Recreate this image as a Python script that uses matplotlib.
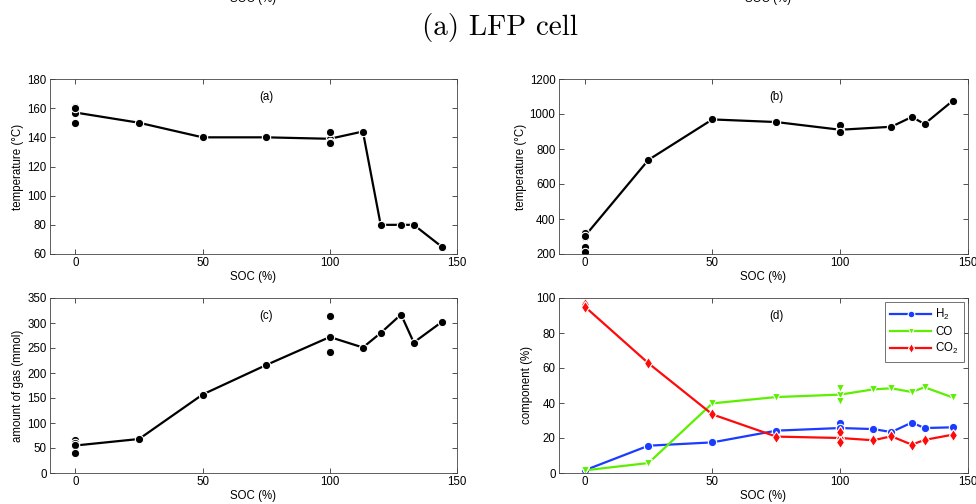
import matplotlib
matplotlib.use('Agg')
import matplotlib.pyplot as plt

plt.rcParams['font.family'] = ['Liberation Sans', 'DejaVu Sans']
plt.rcParams['mathtext.default'] = 'regular'

# SOC values along the connecting line (all panels share these positions)
soc_a = [0, 25, 50, 75, 100, 113, 120, 128, 133, 144]
temp_onset = [157, 150, 140, 140, 139, 144, 80, 80, 80, 65]
rep_soc_a = [0, 0, 0, 100, 100, 100]
rep_temp_onset = [161, 160, 150, 144, 137, 136]

soc_b = [0, 25, 50, 75, 100, 120, 128, 133, 144]
temp_max = [300, 738, 969, 954, 910, 927, 983, 943, 1075]
rep_soc_b = [0, 0, 0, 0, 100, 100]
rep_temp_max = [318, 305, 240, 212, 935, 898]

soc_c = [0, 25, 50, 75, 100, 113, 120, 128, 133, 144]
gas = [55, 68, 157, 216, 272, 251, 280, 317, 261, 302]
rep_soc_c = [0, 0, 0, 0, 100, 100]
rep_gas = [66, 61, 57, 40, 314, 243]

soc_d = [0, 25, 50, 75, 100, 113, 120, 128, 133, 144]
h2 = [1.5, 15.6, 17.5, 24.2, 25.7, 25.1, 23.4, 28.8, 25.7, 26.1]
co = [1.5, 5.7, 39.8, 43.4, 44.8, 47.8, 48.4, 46.3, 49.0, 43.2]
co2 = [95.2, 62.7, 33.5, 20.8, 20.0, 18.7, 21.0, 16.2, 18.9, 21.9]
rep_soc_d = [0, 0, 100, 100]
rep_h2 = [1.5, 1.5, 28.6, 25.7]
rep_co = [1.5, 1.5, 48.4, 41.0]
rep_co2 = [96.8, 94.7, 23.2, 17.5]

W, H = 976, 504
fig = plt.figure(figsize=(W / 100, H / 100), dpi=100)


def make_axes(x0, y0, x1, y1):
    return fig.add_axes([x0 / W, 1 - y1 / H, (x1 - x0) / W, (y1 - y0) / H])


def style(ax, ylim, yticks, ylabel, tag):
    ax.set_xlim(-10, 150)
    ax.set_xticks([0, 50, 100, 150])
    ax.set_ylim(*ylim)
    ax.set_yticks(yticks)
    ax.tick_params(direction='in', top=True, right=True, length=3.5,
                   width=0.6, labelsize=8.3, pad=2.5, color='#333333')
    for s in ax.spines.values():
        s.set_linewidth(0.6)
        s.set_color('#444444')
    ax.set_xlabel('SOC (%)', fontsize=8.3, labelpad=1)
    ax.set_ylabel(ylabel, fontsize=8.3, labelpad=2)
    ax.text(0.531, 0.895, tag, transform=ax.transAxes, fontsize=8.3,
            ha='center', va='center')


mk = dict(markersize=6, markeredgecolor='white', markeredgewidth=0.8)


def series(ax, x, y, rx, ry, color, marker):
    ax.plot(x, y, color=color, lw=1.6, marker=marker, **mk)
    ax.plot(rx, ry, ls='none', color=color, marker=marker, **mk)


ax_a = make_axes(50, 79, 457, 254)
series(ax_a, soc_a, temp_onset, rep_soc_a, rep_temp_onset, 'black', 'o')
style(ax_a, (60, 180), range(60, 181, 20), 'temperature (°C)', '(a)')

ax_b = make_axes(559, 79, 968, 254)
series(ax_b, soc_b, temp_max, rep_soc_b, rep_temp_max, 'black', 'o')
style(ax_b, (200, 1200), range(200, 1201, 200), 'temperature (°C)', '(b)')

ax_c = make_axes(50, 298, 457, 473)
series(ax_c, soc_c, gas, rep_soc_c, rep_gas, 'black', 'o')
style(ax_c, (0, 350), range(0, 351, 50), 'amount of gas (mmol)', '(c)')

ax_d = make_axes(559, 298, 968, 473)
series(ax_d, soc_d, h2, rep_soc_d, rep_h2, '#1a3cff', 'o')
series(ax_d, soc_d, co, rep_soc_d, rep_co, '#5cf000', 'v')
series(ax_d, soc_d, co2, rep_soc_d, rep_co2, '#ff0a0a', 'd')
style(ax_d, (0, 100), range(0, 101, 20), 'component (%)', '(d)')
h = ax_d.get_lines()[0::2]
leg = ax_d.legend(h, ['H$_2$', 'CO', 'CO$_2$'], loc='upper right', fontsize=8.3,
                  frameon=True, fancybox=False, borderaxespad=0.35,
                  handlelength=3.6, handletextpad=0.35, labelspacing=0.3,
                  markerscale=0.8, borderpad=0.45)
leg.get_frame().set_edgecolor('#333333')
leg.get_frame().set_linewidth(0.6)

# cut-off x labels of the figure above and the caption
fig.text(253 / W, 1 - 2 / H, 'SOC (%)', fontsize=8.3, ha='center', va='baseline')
fig.text(768 / W, 1 - 2 / H, 'SOC (%)', fontsize=8.3, ha='center', va='baseline')
fig.text(500 / W, 1 - 28 / H, '(a) LFP cell', family='cmr10', fontsize=21,
         ha='center', va='center')

fig.savefig('out.png', dpi=100)
